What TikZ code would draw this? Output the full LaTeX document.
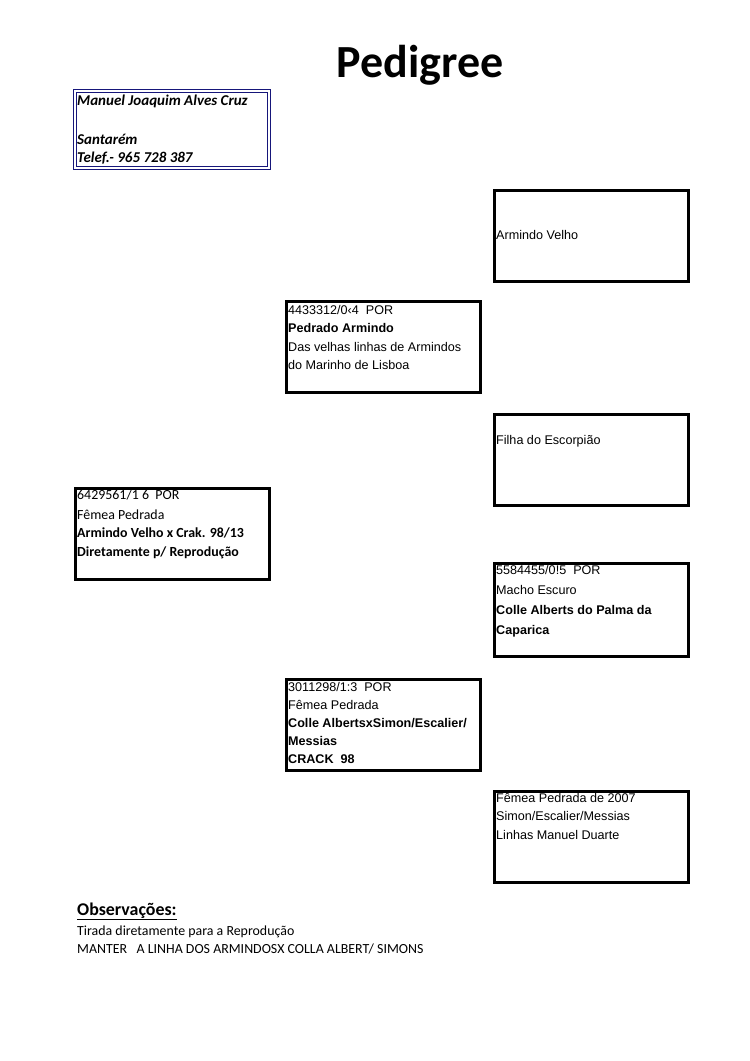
\documentclass[tikz,border=0pt]{standalone}
\usepackage{fontspec}
\setmainfont{Carlito}
\newfontfamily\arialf{Liberation Sans}
\newfontfamily\calf{Carlito}
\definecolor{navyb}{HTML}{16167A}
\tikzset{
  pbox/.style={draw=black, line width=3.2pt, anchor=north west, inner sep=0pt, minimum width=194pt, minimum height=91pt},
  txt/.style={anchor=base west, inner sep=0pt, font=\arialf\fontsize{12.6}{14}\selectfont},
  btxt/.style={txt, font=\arialf\bfseries\fontsize{12.6}{14}\selectfont},
  ctxt/.style={anchor=base west, inner sep=0pt, font=\calf\fontsize{13.9}{15}\selectfont},
  cbtxt/.style={ctxt, font=\calf\bfseries\fontsize{13.9}{15}\selectfont},
  otxt/.style={anchor=base west, inner sep=0pt, font=\calf\bfseries\itshape\fontsize{15}{16}\selectfont},
  obstxt/.style={anchor=base west, inner sep=0pt, font=\calf\fontsize{13.9}{15}\selectfont},
}
\begin{document}
\begin{tikzpicture}[x=1pt,y=-1pt]
\useasboundingbox[fill=white] (0,0) rectangle (750,1061);
% title
\node[anchor=base, inner sep=0pt, font=\calf\bfseries\fontsize{46}{50}\selectfont] (title) at (420,77) {Pedigree};
% owner box
\node[draw=navyb, double=white, double distance=1.5pt, line width=1.5pt, anchor=north west, inner sep=0pt, minimum width=194pt, minimum height=77pt] (owner) at (74,90) {};
\node[otxt] (o1) at (77,105) {Manuel Joaquim Alves Cruz};
\node[otxt] (o2) at (77,144) {Santarém};
\node[otxt] (o3) at (77,162) {Telef.- 965 728 387};
% Armindo Velho
\node[pbox] (b1) at (492.5,188.5) {};
\node[txt] (b1a) at (496,239) {Armindo Velho};
% Pedrado Armindo
\node[pbox] (b2) at (284.5,299.5) {};
\node[txt] (b2a) at (288,314) {4433312/0‹4\ \ POR};
\node[btxt] (b2b) at (288,332) {Pedrado Armindo};
\node[txt] (b2c) at (288,351) {Das velhas linhas de Armindos};
\node[txt] (b2d) at (288,369) {do Marinho de Lisboa};
% Filha do Escorpiao
\node[pbox] (b3) at (492.5,412.5) {};
\node[txt] (b3a) at (496,444) {Filha do Escorpião};
% main bird
\node[pbox] (b4) at (73.5,486.5) {};
\node[ctxt] (b4a) at (77,499) {6429561/1 6\ \ POR};
\node[ctxt] (b4b) at (77,519) {Fêmea Pedrada};
\node[cbtxt] (b4c) at (77,537) {Armindo Velho x Crak. 98/13};
\node[cbtxt] (b4d) at (77,556) {Diretamente p/ Reprodução};
% Macho Escuro
\node[pbox, minimum height=93pt] (b5) at (492.5,561.5) {};
\node[txt] (b5a) at (496,574) {5584455/0!5\ \ POR};
\node[txt] (b5b) at (496,594) {Macho Escuro};
\node[btxt] (b5c) at (496,614) {Colle Alberts do Palma da};
\node[btxt] (b5d) at (496,634) {Caparica};
% 3011298
\node[pbox] (b6) at (284.5,677.5) {};
\node[txt] (b6a) at (288,691) {3011298/1:3\ \ POR};
\node[txt] (b6b) at (288,709) {Fêmea Pedrada};
\node[btxt] (b6c) at (288,727) {Colle AlbertsxSimon/Escalier/};
\node[btxt] (b6d) at (288,745) {Messias};
\node[btxt] (b6e) at (288,763) {CRACK\ \ 98};
% Femea 2007
\node[pbox] (b7) at (492.5,789.5) {};
\node[txt] (b7a) at (496,802) {Fêmea Pedrada de 2007};
\node[txt] (b7b) at (496,820) {Simon/Escalier/Messias};
\node[txt] (b7c) at (496,839) {Linhas Manuel Duarte};
% observacoes
\node[anchor=base west, inner sep=0pt, font=\calf\bfseries\fontsize{17.9}{19}\selectfont] (obs) at (77,915) {\underline{Observações:}};
\node[obstxt] (obs1) at (77,935) {Tirada diretamente para a Reprodução};
\node[obstxt] (obs2) at (77,953) {MANTER \ \ A LINHA DOS ARMINDOSX COLLA ALBERT/ SIMONS};
\end{tikzpicture}
\end{document}
